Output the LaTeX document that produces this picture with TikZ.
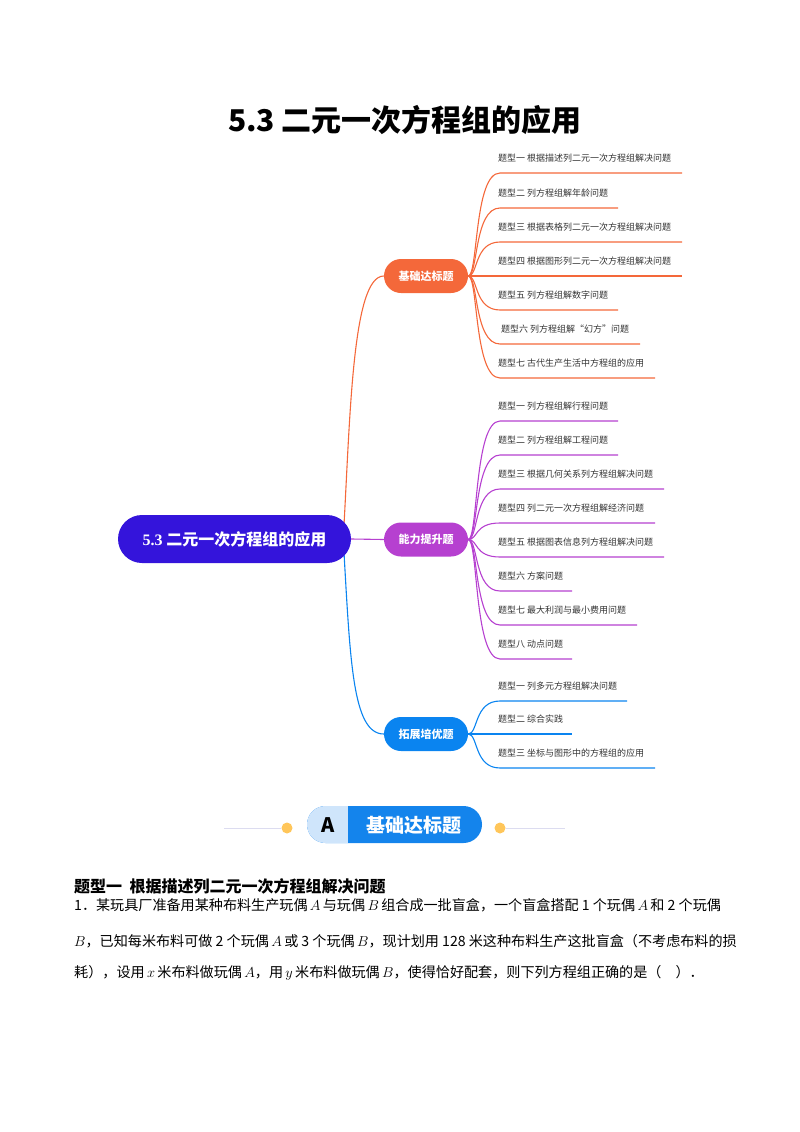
\documentclass[tikz,border=0pt]{standalone}
\usepackage{fontspec}
\setmainfont{Noto Sans CJK SC}
\newfontfamily\timesb{Liberation Serif}
\usetikzlibrary{shapes.misc,calc}
\pgfdeclarelayer{back}
\pgfsetlayers{back,main}
\definecolor{rootblue}{HTML}{3414DB}
\definecolor{jcorange}{HTML}{F4683A}
\definecolor{nlpurple}{HTML}{B640D0}
\definecolor{tzblue}{HTML}{0A84F0}
\definecolor{banlight}{HTML}{CFE5FB}
\definecolor{bandark}{HTML}{1484EC}
\definecolor{dotyellow}{HTML}{FFC65A}
\definecolor{fadeline}{HTML}{DCDCF0}
\newcommand{\lt}[1]{\,$#1$\,}
\newcommand{\ltc}[1]{\,$#1$}
\begin{document}
\begin{tikzpicture}[x=1pt,y=-1pt,
    branch/.style={rounded rectangle, minimum width=84pt, minimum height=34pt,
      inner sep=0pt, text=white, font=\fontsize{11}{13}\selectfont\bfseries},
    leaf/.style={anchor=west, inner sep=0pt, text=black!80,
      font=\fontsize{9}{11}\selectfont},
    twig/.style={line width=1.1pt},
    body/.style={anchor=west, inner sep=0pt, font=\fontsize{14.1}{16}\selectfont}]
  \useasboundingbox (0,0) rectangle (800,1132);
  % title
  \node[font=\fontsize{30}{34}\selectfont\bfseries] (title) at (405,120)
    {5.3\ 二元一次方程组的应用};
  % mind map
  \node[rounded rectangle, fill=rootblue, minimum width=233pt, minimum height=48pt,
    inner sep=0pt, text=white, font=\fontsize{16}{18}\selectfont\bfseries]
    (root) at (234.5,539) {{\timesb\bfseries 5.3} 二元一次方程组的应用};
  \node[branch, fill=jcorange] (jc) at (426,276) {基础达标题};
  \node[branch, fill=nlpurple] (nl) at (426,539.5) {能力提升题};
  \node[branch, fill=tzblue] (tz) at (426,734) {拓展培优题};
  \begin{pgfonlayer}{back}
    \draw[twig, jcorange] ($(root.east)+(-8,0)$) .. controls +(7,-119) and +(-32,0) .. (jc.west);
    \draw[twig, nlpurple] (root.east) -- (nl.west);
    \draw[twig, tzblue] ($(root.east)+(-8,0)$) .. controls +(7,119) and +(-32,0) .. (tz.west);
  \end{pgfonlayer}
  % leaves
  \foreach \n/\ly/\ex/\txt in {
      1/173/682/{题型一 根据描述列二元一次方程组解决问题},
      2/208/618/{题型二 列方程组解年龄问题},
      3/242/682/{题型三 根据表格列二元一次方程组解决问题},
      4/276/682/{题型四 根据图形列二元一次方程组解决问题},
      5/310/618/{题型五 列方程组解数字问题},
      6/344/640/{\hspace{3pt}题型六 列方程组解“幻方”问题},
      7/378/655/{题型七 古代生产生活中方程组的应用}}{
    \coordinate (o\n s) at (500,\ly);
    \coordinate (o\n e) at (\ex,\ly);
    \node[leaf] (o\n) at (498,\ly-15) {\txt};
    \draw[twig, jcorange] (jc.east) .. controls +(10,0) and +(-26,0) .. (o\n s) -- (o\n e);
  }
  \foreach \n/\ly/\ex/\txt in {
      1/421/618/{题型一 列方程组解行程问题},
      2/455/618/{题型二 列方程组解工程问题},
      3/489/664/{题型三 根据几何关系列方程组解决问题},
      4/523/655/{题型四 列二元一次方程组解经济问题},
      5/557/664/{题型五 根据图表信息列方程组解决问题},
      6/591/572/{题型六 方案问题},
      7/625/637/{题型七 最大利润与最小费用问题},
      8/659/572/{题型八 动点问题}}{
    \coordinate (p\n s) at (500,\ly);
    \coordinate (p\n e) at (\ex,\ly);
    \node[leaf] (p\n) at (498,\ly-15) {\txt};
    \draw[twig, nlpurple] (nl.east) .. controls +(10,0) and +(-26,0) .. (p\n s) -- (p\n e);
  }
  \foreach \n/\ly/\ex/\txt in {
      1/701/627/{题型一 列多元方程组解决问题},
      2/734/572/{题型二 综合实践},
      3/768/655/{题型三 坐标与图形中的方程组的应用}}{
    \coordinate (t\n s) at (500,\ly);
    \coordinate (t\n e) at (\ex,\ly);
    \node[leaf] (t\n) at (498,\ly-15) {\txt};
    \draw[twig, tzblue] (tz.east) .. controls +(10,0) and +(-26,0) .. (t\n s) -- (t\n e);
  }
  % banner
  \node[rounded rectangle, fill=bandark, minimum width=175pt, minimum height=37pt,
    inner sep=0pt, path picture={\fill[banlight] (path picture bounding box.north west)
      rectangle ($(path picture bounding box.south west)+(41,0)$);}]
    (ban) at (394.5,824.5) {};
  \node[font=\fontsize{20}{22}\selectfont\bfseries] (banA) at (328,825) {A};
  \node[text=white, font=\fontsize{19}{21}\selectfont\bfseries] (banT) at (414,825) {基础达标题};
  \node[circle, fill=dotyellow, inner sep=0pt, minimum size=11pt] (dl) at (287,828) {};
  \node[circle, fill=dotyellow, inner sep=0pt, minimum size=11pt] (dr) at (500,828) {};
  \coordinate (ll) at (224,828);
  \coordinate (lr) at (565,828);
  \draw[fadeline, line width=1pt] (ll) -- (dl);
  \draw[fadeline, line width=1pt] (dr) -- (lr);
  % question
  \node[anchor=west, inner sep=0pt, font=\fontsize{16}{18}\selectfont\bfseries] (h1) at (74,886)
    {题型一\ \ 根据描述列二元一次方程组解决问题};
  \node[body] (q1) at (74,905)
    {1．某玩具厂准备用某种布料生产玩偶\lt{A}与玩偶\lt{B}组合成一批盲盒，一个盲盒搭配 1 个玩偶\lt{A}和 2 个玩偶};
  \node[body] (q2) at (74,941)
    {$B$，已知每米布料可做 2 个玩偶\lt{A}或 3 个玩偶\ltc{B}，现计划用 128 米这种布料生产这批盲盒（不考虑布料的损};
  \node[body] (q3) at (74,973)
    {耗），设用\lt{x}米布料做玩偶\ltc{A}，用\lt{y}米布料做玩偶\ltc{B}，使得恰好配套，则下列方程组正确的是（\quad ）．};
\end{tikzpicture}
\end{document}
